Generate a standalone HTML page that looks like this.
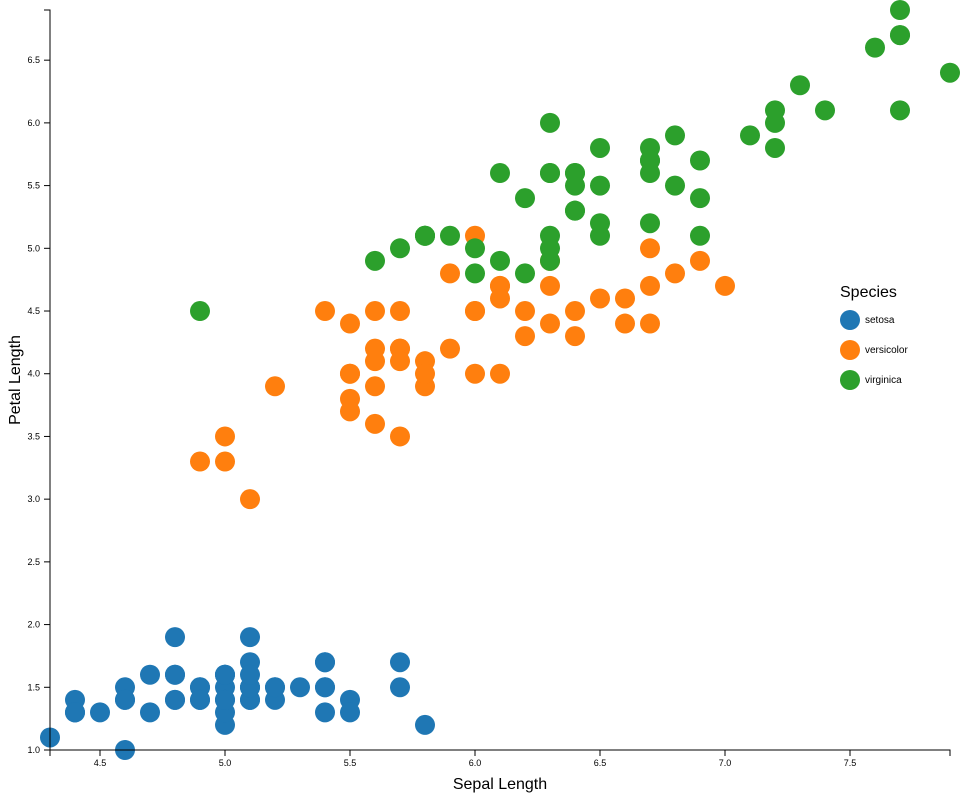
<!DOCTYPE html>
<html><head><meta charset="utf-8"><style>
html,body{margin:0;padding:0;background:#fff}
svg{display:block;font-family:"Liberation Sans",sans-serif}
</style></head><body>
<svg id="s" width="960" height="800" xmlns="http://www.w3.org/2000/svg"></svg>
<script>
const S=document.getElementById('s');
const ns='http://www.w3.org/2000/svg';
function el(t,a,txt){const e=document.createElementNS(ns,t);for(const k in a)e.setAttribute(k,a[k]);if(txt!=null)e.textContent=txt;S.appendChild(e);return e;}
const X=v=>50+(v-4.3)*250, Y=v=>750-(v-1)*(740/5.9);
const set="5.1 1.4,4.9 1.4,4.7 1.3,4.6 1.5,5.0 1.4,5.4 1.7,4.6 1.4,5.0 1.5,4.4 1.4,4.9 1.5,5.4 1.5,4.8 1.6,4.8 1.4,4.3 1.1,5.8 1.2,5.7 1.5,5.4 1.3,5.1 1.4,5.7 1.7,5.1 1.5,5.4 1.7,5.1 1.5,4.6 1.0,5.1 1.7,4.8 1.9,5.0 1.6,5.0 1.6,5.2 1.5,5.2 1.4,4.7 1.6,4.8 1.6,5.4 1.5,5.2 1.5,5.5 1.4,4.9 1.5,5.0 1.2,5.5 1.3,4.9 1.4,4.4 1.3,5.1 1.5,5.0 1.3,4.5 1.3,4.4 1.3,5.0 1.6,5.1 1.9,4.8 1.4,5.1 1.6,4.6 1.4,5.3 1.5,5.0 1.4";
const ver="7.0 4.7,6.4 4.5,6.9 4.9,5.5 4.0,6.5 4.6,5.7 4.5,6.3 4.7,4.9 3.3,6.6 4.6,5.2 3.9,5.0 3.5,5.9 4.2,6.0 4.0,6.1 4.7,5.6 3.6,6.7 4.4,5.6 4.5,5.8 4.1,6.2 4.5,5.6 3.9,5.9 4.8,6.1 4.0,6.3 4.9,6.1 4.7,6.4 4.3,6.6 4.4,6.8 4.8,6.7 5.0,6.0 4.5,5.7 3.5,5.5 3.8,5.5 3.7,5.8 3.9,6.0 5.1,5.4 4.5,6.0 4.5,6.7 4.7,6.3 4.4,5.6 4.1,5.5 4.0,5.5 4.4,6.1 4.6,5.8 4.0,5.0 3.3,5.6 4.2,5.7 4.2,5.7 4.2,6.2 4.3,5.1 3.0,5.7 4.1";
const vir="6.3 6.0,5.8 5.1,7.1 5.9,6.3 5.6,6.5 5.8,7.6 6.6,4.9 4.5,7.3 6.3,6.7 5.8,7.2 6.1,6.5 5.1,6.4 5.3,6.8 5.5,5.7 5.0,5.8 5.1,6.4 5.3,6.5 5.5,7.7 6.7,7.7 6.9,6.0 5.0,6.9 5.7,5.6 4.9,7.7 6.7,6.3 4.9,6.7 5.7,7.2 6.0,6.2 4.8,6.1 4.9,6.4 5.6,7.2 5.8,7.4 6.1,7.9 6.4,6.4 5.6,6.3 5.1,6.1 5.6,7.7 6.1,6.3 5.6,6.4 5.5,6.0 4.8,6.9 5.4,6.7 5.6,6.9 5.1,5.8 5.1,6.8 5.9,6.7 5.7,6.7 5.2,6.3 5.0,6.5 5.2,6.2 5.4,5.9 5.1";
[[set,'#1f77b4'],[ver,'#ff7f0e'],[vir,'#2ca02c']].forEach(([d,c])=>{
 d.split(',').forEach(p=>{const [a,b]=p.split(' ').map(Number);el('circle',{cx:X(a),cy:Y(b),r:10,fill:c});});
});
el('path',{d:'M44,10H50V750H44',fill:'none',stroke:'#000'});
el('path',{d:'M50,756V750H950V756',fill:'none',stroke:'#000'});
for(let v=1;v<=6.51;v+=0.5){const y=Y(v);el('line',{x1:44,x2:50,y1:y,y2:y,stroke:'#000'});el('text',{x:40,y:y+3,'text-anchor':'end','font-size':9},v.toFixed(1));}
for(let v=4.5;v<=7.51;v+=0.5){const x=X(v);el('line',{x1:x,x2:x,y1:750,y2:756,stroke:'#000'});el('text',{x:x,y:766,'text-anchor':'middle','font-size':9},v.toFixed(1));}
el('text',{x:500,y:789,'text-anchor':'middle','font-size':16},'Sepal Length');
el('text',{x:0,y:0,'text-anchor':'middle','font-size':16,transform:'translate(20,380) rotate(-90)'},'Petal Length');
el('text',{x:840,y:297,'font-size':16},'Species');
[['setosa','#1f77b4'],['versicolor','#ff7f0e'],['virginica','#2ca02c']].forEach(([n,c],i)=>{
 el('circle',{cx:850,cy:320+30*i,r:10,fill:c});
 el('text',{x:865,y:323+30*i,'font-size':10},n);
});
</script>
</body></html>
